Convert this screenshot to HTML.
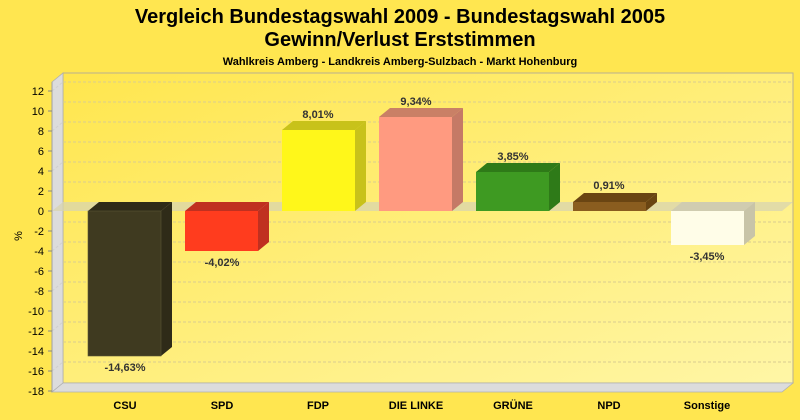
<!DOCTYPE html><html><head><meta charset="utf-8"><style>body{margin:0}svg{display:block}</style></head><body>
<svg width="800" height="420" xmlns="http://www.w3.org/2000/svg" font-family="Liberation Sans, sans-serif">
<defs><linearGradient id="bg" x1="0" y1="0" x2="1" y2="1"><stop offset="0" stop-color="#ffe64e"/><stop offset="1" stop-color="#fff6a6"/></linearGradient></defs>
<rect width="800" height="420" fill="#ffe650"/>
<text x="400" y="23" font-size="20" font-weight="bold" text-anchor="middle">Vergleich Bundestagswahl 2009 - Bundestagswahl 2005</text>
<text x="400" y="46" font-size="20" font-weight="bold" text-anchor="middle">Gewinn/Verlust Erststimmen</text>
<text x="400" y="65" font-size="11" font-weight="bold" text-anchor="middle">Wahlkreis Amberg - Landkreis Amberg-Sulzbach - Markt Hohenburg</text>
<rect x="63" y="73" width="730" height="310" fill="url(#bg)" stroke="#b8b090" stroke-width="1"/>
<polygon points="52,82 63,73 63,383 52,392" fill="#dcdcdc" stroke="#b0b0b0" stroke-width="0.8"/>
<polygon points="52,392 63,383 793,383 782,392" fill="#dcdcdc" stroke="#b0b0b0" stroke-width="0.8"/>
<g stroke="#d8cc90" stroke-dasharray="3,2" stroke-width="1">
<line x1="63" x2="793" y1="82" y2="82"/><line x1="63" x2="793" y1="102" y2="102"/><line x1="63" x2="793" y1="122" y2="122"/><line x1="63" x2="793" y1="142" y2="142"/><line x1="63" x2="793" y1="162" y2="162"/><line x1="63" x2="793" y1="182" y2="182"/><line x1="63" x2="793" y1="222" y2="222"/><line x1="63" x2="793" y1="242" y2="242"/><line x1="63" x2="793" y1="262" y2="262"/><line x1="63" x2="793" y1="282" y2="282"/><line x1="63" x2="793" y1="302" y2="302"/><line x1="63" x2="793" y1="322" y2="322"/><line x1="63" x2="793" y1="342" y2="342"/><line x1="63" x2="793" y1="362" y2="362"/>
</g>
<g stroke="#d0d0d0" stroke-dasharray="3,2"><line x1="52" y1="91" x2="63" y2="82"/><line x1="52" y1="131" x2="63" y2="122"/><line x1="52" y1="171" x2="63" y2="162"/><line x1="52" y1="251" x2="63" y2="242"/><line x1="52" y1="291" x2="63" y2="282"/><line x1="52" y1="331" x2="63" y2="322"/><line x1="52" y1="371" x2="63" y2="362"/></g>
<polygon points="52,211 63,202 793,202 782,211" fill="#d8d4b0" opacity="0.75"/>
<line x1="52" y1="82" x2="52" y2="392" stroke="#a0a0a0"/>
<g font-size="11" text-anchor="end" fill="#000">
<text x="44" y="95">12</text><text x="44" y="115">10</text><text x="44" y="135">8</text><text x="44" y="155">6</text><text x="44" y="175">4</text><text x="44" y="195">2</text><text x="44" y="215">0</text><text x="44" y="235">-2</text><text x="44" y="255">-4</text><text x="44" y="275">-6</text><text x="44" y="295">-8</text><text x="44" y="315">-10</text><text x="44" y="335">-12</text><text x="44" y="355">-14</text><text x="44" y="375">-16</text><text x="44" y="395">-18</text>
</g>
<g stroke="#888"><line x1="48" x2="52" y1="91" y2="91"/><line x1="48" x2="52" y1="111" y2="111"/><line x1="48" x2="52" y1="131" y2="131"/><line x1="48" x2="52" y1="151" y2="151"/><line x1="48" x2="52" y1="171" y2="171"/><line x1="48" x2="52" y1="191" y2="191"/><line x1="48" x2="52" y1="211" y2="211"/><line x1="48" x2="52" y1="231" y2="231"/><line x1="48" x2="52" y1="251" y2="251"/><line x1="48" x2="52" y1="271" y2="271"/><line x1="48" x2="52" y1="291" y2="291"/><line x1="48" x2="52" y1="311" y2="311"/><line x1="48" x2="52" y1="331" y2="331"/><line x1="48" x2="52" y1="351" y2="351"/><line x1="48" x2="52" y1="371" y2="371"/><line x1="48" x2="52" y1="391" y2="391"/></g>
<text x="22" y="236" font-size="11" transform="rotate(-90 22 236)" text-anchor="middle">%</text>
<!-- bars: x0, top, bottom, front, side, top colors -->
<g stroke-width="0.6">
<polygon points="161,211 172,202 172,347 161,356" fill="#2f2b18"/><polygon points="88,211 99,202 172,202 161,211" fill="#2f2b18"/><rect x="88" y="211" width="73" height="145" fill="#3f3a20" stroke="#5a5535"/>
<polygon points="258,211 269,202 269,242 258,251" fill="#c03020"/><polygon points="185,211 196,202 269,202 258,211" fill="#c03020"/><rect x="185" y="211" width="73" height="40" fill="#ff3c1e"/>
<polygon points="355,130 366,121 366,202 355,211" fill="#c8c21a"/><polygon points="282,130 293,121 366,121 355,130" fill="#c8c21a"/><rect x="282" y="130" width="73" height="81" fill="#fff71a"/>
<polygon points="452,117 463,108 463,202 452,211" fill="#c57a66"/><polygon points="379,117 390,108 463,108 452,117" fill="#c98066"/><rect x="379" y="117" width="73" height="94" fill="#ff9a80"/>
<polygon points="549,172 560,163 560,202 549,211" fill="#2e7a18"/><polygon points="476,172 487,163 560,163 549,172" fill="#2e7a18"/><rect x="476" y="172" width="73" height="39" fill="#3e9a22"/>
<polygon points="646,202 657,193 657,202 646,211" fill="#6a4512"/><polygon points="573,202 584,193 657,193 646,202" fill="#6a4512"/><rect x="573" y="202" width="73" height="9" fill="#8a5d1f"/>
<polygon points="744,211 755,202 755,236 744,245" fill="#c8c4a8"/><polygon points="671,211 682,202 755,202 744,211" fill="#d0ccb0"/><rect x="671" y="211" width="73" height="34" fill="#fffde8"/>
</g>
<g font-size="11" font-weight="bold" fill="#333" text-anchor="middle">
<text x="125" y="371">-14,63%</text><text x="222" y="266">-4,02%</text><text x="318" y="118">8,01%</text><text x="416" y="105">9,34%</text><text x="513" y="160">3,85%</text><text x="609" y="189">0,91%</text><text x="707" y="260">-3,45%</text>
</g>
<g font-size="11" font-weight="bold" fill="#000" text-anchor="middle">
<text x="125" y="409">CSU</text><text x="222" y="409">SPD</text><text x="318" y="409">FDP</text><text x="416" y="409">DIE LINKE</text><text x="513" y="409">GRÜNE</text><text x="609" y="409">NPD</text><text x="707" y="409">Sonstige</text>
</g>
</svg>
</body></html>
